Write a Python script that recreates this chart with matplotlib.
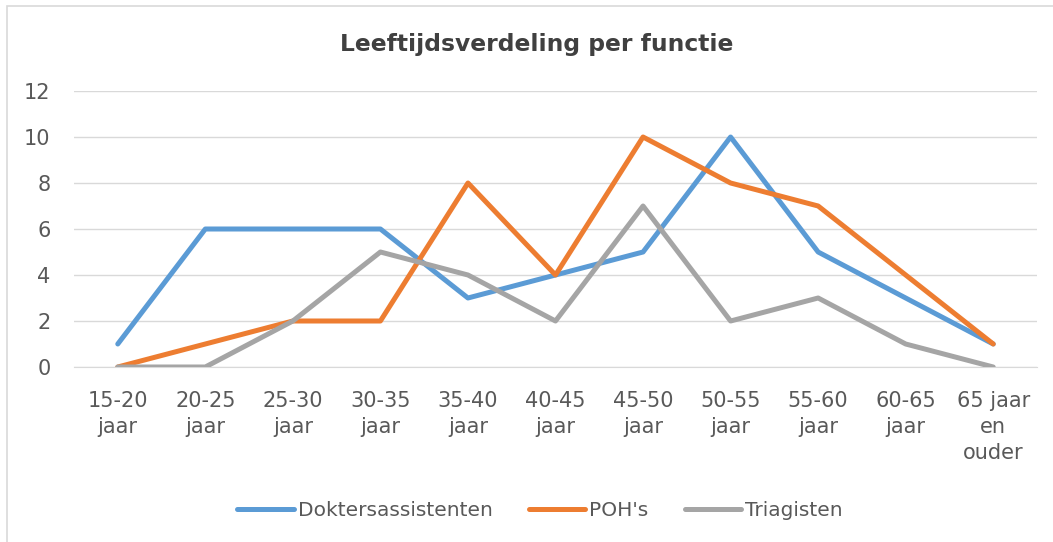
import matplotlib
matplotlib.use("Agg")
import matplotlib.pyplot as plt
from matplotlib.patches import Rectangle

categories = ["15-20\njaar", "20-25\njaar", "25-30\njaar", "30-35\njaar", "35-40\njaar",
              "40-45\njaar", "45-50\njaar", "50-55\njaar", "55-60\njaar", "60-65\njaar",
              "65 jaar\nen\nouder"]
doktersassistenten = [1, 6, 6, 6, 3, 4, 5, 10, 5, 3, 1]
pohs = [0, 1, 2, 2, 8, 4, 10, 8, 7, 4, 1]
triagisten = [0, 0, 2, 5, 4, 2, 7, 2, 3, 1, 0]
y_ticks = [0, 2, 4, 6, 8, 10, 12]

text_color = "#595959"
plt.rcParams['font.family'] = ['DejaVu Sans']

fig = plt.figure(figsize=(10.53, 5.42), dpi=100)
fig.patches.append(Rectangle((7 / 1053, -0.1), 1.2, 1 - 6 / 542 + 0.1,
                             transform=fig.transFigure, fill=False,
                             edgecolor="#D9D9D9", linewidth=1.2))

ax = fig.add_axes([74 / 1053, 1 - 367 / 542, (1037 - 74) / 1053, (367 - 91) / 542])
x = range(len(categories))
series = [
    ("Doktersassistenten", doktersassistenten, "#5B9BD5"),
    ("POH's", pohs, "#ED7D31"),
    ("Triagisten", triagisten, "#A5A5A5"),
]
for name, vals, col in series:
    ax.plot(x, vals, color=col, linewidth=3.6, label=name,
            solid_capstyle="round", solid_joinstyle="round")

ax.set_xlim(-0.5, len(categories) - 0.5)
ax.set_ylim(0, 12)
ax.set_yticks(y_ticks)
ax.set_xticks(list(x))
ax.set_xticklabels(categories, fontsize=15, color=text_color, linespacing=1.4, va="top")
ax.tick_params(axis="y", labelsize=15, labelcolor=text_color, length=0, pad=17)
ax.tick_params(axis="x", length=0, pad=17)
ax.grid(axis="y", color="#D9D9D9", linewidth=1)
ax.set_axisbelow(True)
for s in ["top", "right", "left"]:
    ax.spines[s].set_visible(False)
ax.spines["bottom"].set_color("#D9D9D9")
ax.spines["bottom"].set_zorder(0.5)

fig.text(537 / 1053, 1 - 45 / 542, "Leeftijdsverdeling per functie", ha="center", va="center",
         fontsize=16.8, fontweight="bold", color="#404040")

fig.legend(loc="center", bbox_to_anchor=(540 / 1053, 1 - 511 / 542), ncol=3, frameon=False,
           fontsize=14.5, labelcolor=text_color, handlelength=2.8, handletextpad=0.2,
           columnspacing=1.8)

fig.savefig("out.png", dpi=100)
